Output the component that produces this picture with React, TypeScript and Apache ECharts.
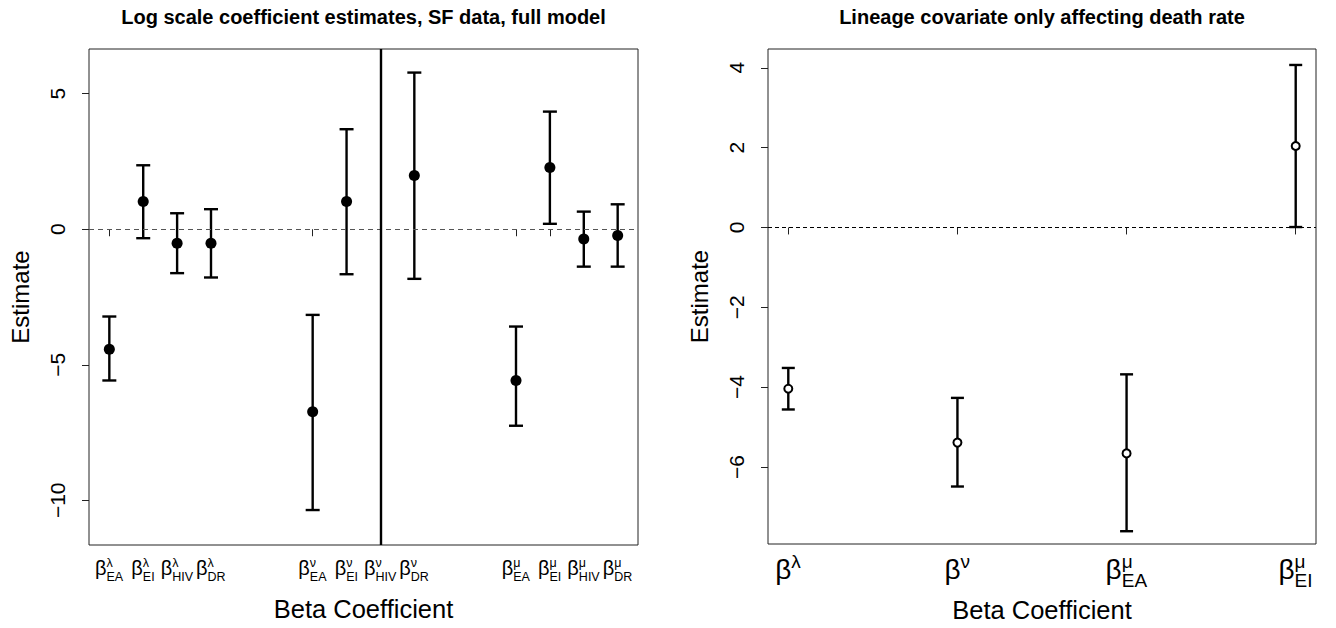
import React, { useEffect, useRef } from "react";
import * as echarts from "echarts";

// ---------- Left panel data: full model ----------
const leftPositions = [1, 2, 3, 4, 7, 8, 9, 10, 13, 14, 15, 16];
const leftSup = ["λ", "λ", "λ", "λ", "ν", "ν", "ν", "ν", "μ", "μ", "μ", "μ"];
const leftSub = ["EA", "EI", "HIV", "DR", "EA", "EI", "HIV", "DR", "EA", "EI", "HIV", "DR"];
const leftEstimate = [-4.43, 1.02, -0.52, -0.52, -6.73, 1.02, null, 1.98, -5.58, 2.28, -0.36, -0.23];
const leftLower = [-5.58, -0.33, -1.62, -1.78, -10.36, -1.66, null, -1.83, -7.25, 0.2, -1.38, -1.38];
const leftUpper = [-3.22, 2.36, 0.59, 0.74, -3.16, 3.69, null, 5.78, -3.59, 4.34, 0.65, 0.92];
// β_HIV^ν: interval covers the whole plotting range (drawn as a full-height line)
const leftUnboundedIndex = 6;
const leftYTicks = [-10, -5, 0, 5];
const leftXRange = [0.4, 16.6];
const leftYRange = [-11.65, 6.65];

// ---------- Right panel data: lineage covariate on death rate ----------
const rightPositions = [1, 2, 3, 4];
const rightSup = ["λ", "ν", "μ", "μ"];
const rightSub = ["", "", "EA", "EI"];
const rightEstimate = [-4.04, -5.39, -5.66, 2.04];
const rightLower = [-4.56, -6.49, -7.61, 0.01];
const rightUpper = [-3.52, -4.27, -3.68, 4.07];
const rightYTicks = [-6, -4, -2, 0, 2, 4];
const rightXRange = [0.88, 4.12];
const rightYRange = [-7.93, 4.47];

const titles = [
  "Log scale coefficient estimates, SF data, full model",
  "Lineage covariate only affecting death rate",
];
const xName = "Beta Coefficient";
const yName = "Estimate";

const FONT = '"Liberation Sans", Arial, Helvetica, sans-serif';
const INK = "#000";

function measure(text: string, size: number): number {
  const ctx = document.createElement("canvas").getContext("2d");
  if (!ctx) return text.length * size * 0.6;
  ctx.font = `${size}px ${FONT}`;
  return ctx.measureText(text).width;
}

// supOff / subOff: vertical distance of the script centres from the β centre
type LabelCfg = { beta: number; script: number; supOff: number; subOff: number; betaCenter: number };

function labelAxis(gridIndex: number, positions: number[], sups: string[], subs: string[], range: number[], cfg: LabelCfg) {
  const hb = 2;
  const hp = 2 * (cfg.supOff - hb / 2);
  const hs = 2 * (cfg.subOff + hb / 2);
  const t2 = cfg.betaCenter - hb / 2;
  const margin = t2 - hp - 545;
  const betaW = measure("β", cfg.beta);
  const rich: any = {
    sp: { fontSize: cfg.script, lineHeight: hp, height: hp, width: betaW, align: "left", fontFamily: FONT, color: INK, verticalAlign: "bottom" },
    b: { fontSize: cfg.beta, lineHeight: hb, height: hb, width: betaW, align: "left", fontFamily: FONT, color: INK, verticalAlign: "top" },
  };
  positions.forEach((_, i) => {
    const w = Math.max(measure(subs[i], cfg.script), measure(sups[i], cfg.script)) + 0.5;
    rich["p" + i] = { fontSize: cfg.script, lineHeight: hp, height: hp, verticalAlign: "bottom", width: w, align: "left", fontFamily: FONT, color: INK };
    rich["s" + i] = { fontSize: cfg.script, lineHeight: hs, height: hs, verticalAlign: "top", width: w, align: "left", fontFamily: FONT, color: INK };
  });
  const idx = (v: number) => positions.indexOf(v);
  return {
    type: "value",
    gridIndex,
    min: range[0],
    max: range[1],
    position: "bottom",
    splitLine: { show: false },
    axisLine: { show: false },
    name: xName,
    nameLocation: "middle",
    nameGap: 51,
    nameTextStyle: { fontSize: 25.5, fontFamily: FONT, color: INK },
    axisTick: { show: true, customValues: positions, length: 7, lineStyle: { color: "#222", width: 1 } },
    axisLabel: {
      customValues: positions,
      margin,
      rich,
      showMinLabel: true,
      showMaxLabel: true,
      hideOverlap: false,
      formatter: (v: number) => {
        const i = idx(v);
        return `{sp| }{p${i}|${sups[i]}}\n{b|β}{s${i}|${subs[i] || " "}}`;
      },
    },
  };
}

function yAxisFor(gridIndex: number, range: number[], ticks: number[]) {
  return {
    type: "value",
    gridIndex,
    min: range[0],
    max: range[1],
    name: yName,
    nameLocation: "middle",
    nameRotate: 90,
    nameGap: 57,
    nameTextStyle: { fontSize: 24, fontFamily: FONT, color: INK },
    splitLine: { show: false },
    axisLine: { show: false },
    axisTick: { show: true, customValues: ticks, length: 7, lineStyle: { color: "#222", width: 1 } },
    axisLabel: {
      customValues: ticks,
      rotate: 90,
      margin: 21,
      fontSize: 21,
      fontFamily: FONT,
      color: INK,
      showMinLabel: true,
      showMaxLabel: true,
      formatter: (v: number) => String(v).replace("-", "\u2212"),
    },
  };
}

function errorBarSeries(xAxisIndex: number, yAxisIndex: number, rows: number[][], halfCap: number, lw: number) {
  return {
    type: "custom",
    xAxisIndex,
    yAxisIndex,
    encode: { x: 0, y: [1, 2] },
    data: rows,
    silent: true,
    z: 2,
    renderItem: (params: any, api: any) => {
      const x = api.value(0);
      const lo = api.coord([x, api.value(1)]);
      const hi = api.coord([x, api.value(2)]);
      const st = { stroke: INK, lineWidth: lw };
      return {
        type: "group",
        children: [
          { type: "line", shape: { x1: lo[0], y1: lo[1], x2: hi[0], y2: hi[1] }, style: st },
          { type: "line", shape: { x1: lo[0] - halfCap, y1: lo[1], x2: lo[0] + halfCap, y2: lo[1] }, style: st },
          { type: "line", shape: { x1: hi[0] - halfCap, y1: hi[1], x2: hi[0] + halfCap, y2: hi[1] }, style: st },
        ],
      };
    },
  };
}

function rowsOf(pos: number[], lo: (number | null)[], hi: (number | null)[]) {
  const out: number[][] = [];
  pos.forEach((p, i) => {
    if (lo[i] != null && hi[i] != null) out.push([p, lo[i] as number, hi[i] as number]);
  });
  return out;
}

function pointsOf(pos: number[], est: (number | null)[]) {
  const out: number[][] = [];
  pos.forEach((p, i) => {
    if (est[i] != null) out.push([p, est[i] as number]);
  });
  return out;
}

export default function App() {
  const ref = useRef<HTMLDivElement>(null);
  useEffect(() => {
    if (!ref.current) return;
    const chart = echarts.init(ref.current, null, { renderer: "svg" });
    const leftGrid = { left: 89, right: 1336 - 638, top: 49, bottom: 628 - 545 };
    const rightGrid = { left: 768, right: 1336 - 1316, top: 49, bottom: 628 - 545 };
    const gridStyle = { show: true, borderColor: "#222", borderWidth: 1, backgroundColor: "transparent" };

    const leftX = labelAxis(0, leftPositions, leftSup, leftSub, leftXRange, {
      beta: 20, script: 12.5, supOff: 5.6, subOff: 9.4, betaCenter: 568.1,
    });
    const rightX = labelAxis(1, rightPositions, rightSup, rightSub, rightXRange, {
      beta: 28, script: 19, supOff: 8.6, subOff: 10.7, betaCenter: 570.7,
    });

    const option: any = {
      animation: false,
      backgroundColor: "#fff",
      textStyle: { fontFamily: FONT },
      grid: [
        { ...leftGrid, ...gridStyle },
        { ...rightGrid, ...gridStyle },
      ],
      xAxis: [leftX, rightX],
      yAxis: [yAxisFor(0, leftYRange, leftYTicks), yAxisFor(1, rightYRange, rightYTicks)],
      graphic: [
        {
          type: "text",
          x: (89 + 638) / 2,
          y: 16.5,
          style: { text: titles[0], font: `bold 20px ${FONT}`, fill: INK, textAlign: "center", textVerticalAlign: "middle" },
        },
        {
          type: "text",
          x: (768 + 1316) / 2,
          y: 16.5,
          style: { text: titles[1], font: `bold 20px ${FONT}`, fill: INK, textAlign: "center", textVerticalAlign: "middle" },
        },
      ],
      series: [
        errorBarSeries(0, 0, rowsOf(leftPositions, leftLower, leftUpper), 7, 2.4),
        {
          type: "scatter",
          xAxisIndex: 0,
          yAxisIndex: 0,
          data: pointsOf(leftPositions, leftEstimate),
          symbol: "circle",
          symbolSize: 11,
          itemStyle: { color: INK, opacity: 1 },
          silent: true,
          z: 3,
          markLine: {
            silent: true,
            symbol: ["none", "none"],
            label: { show: false },
            data: [
              { yAxis: 0, lineStyle: { type: [5, 4], color: "#555", width: 1.2 } },
              { xAxis: leftPositions[leftUnboundedIndex], lineStyle: { type: "solid", color: INK, width: 2.4 } },
            ],
          },
        },
        errorBarSeries(1, 1, rowsOf(rightPositions, rightLower, rightUpper), 6.5, 2.4),
        {
          type: "scatter",
          xAxisIndex: 1,
          yAxisIndex: 1,
          data: pointsOf(rightPositions, rightEstimate),
          symbol: "circle",
          symbolSize: 8,
          itemStyle: { color: "#fff", borderColor: INK, borderWidth: 2, opacity: 1 },
          silent: true,
          z: 3,
          markLine: {
            silent: true,
            symbol: ["none", "none"],
            label: { show: false },
            data: [{ yAxis: 0, lineStyle: { type: [4, 3], color: INK, width: 1 } }],
          },
        },
      ],
    };
    chart.setOption(option);
    return () => chart.dispose();
  }, []);
  return (
    <div
      ref={ref}
      style={{ position: "absolute", left: 0, top: 0, width: 1336, height: 628, background: "#fff" }}
    />
  );
}
